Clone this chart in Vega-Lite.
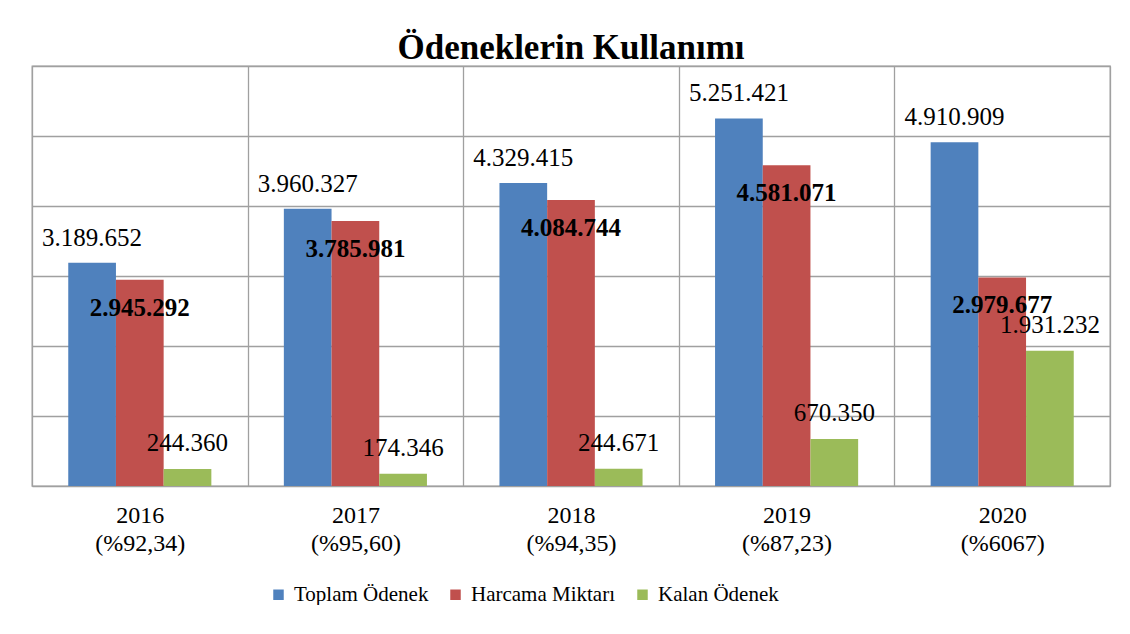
{
  "$schema": "https://vega.github.io/schema/vega-lite/v6.json",
  "width": 1078,
  "height": 420,
  "padding": {"left": 32, "top": 31, "right": 20, "bottom": 0},
  "background": "white",
  "title": {
    "text": "Ödeneklerin  Kullanımı",
    "font": "Liberation Serif",
    "fontSize": 35,
    "fontWeight": "bold",
    "color": "black",
    "anchor": "middle",
    "offset": 0
  },
  "data": {
    "values": [
      {"yil": "2016 (%92,34)", "seri": "Toplam Ödenek", "deger": 3189652},
      {"yil": "2016 (%92,34)", "seri": "Harcama Miktarı", "deger": 2945292},
      {"yil": "2016 (%92,34)", "seri": "Kalan Ödenek", "deger": 244360},
      {"yil": "2017 (%95,60)", "seri": "Toplam Ödenek", "deger": 3960327},
      {"yil": "2017 (%95,60)", "seri": "Harcama Miktarı", "deger": 3785981},
      {"yil": "2017 (%95,60)", "seri": "Kalan Ödenek", "deger": 174346},
      {"yil": "2018 (%94,35)", "seri": "Toplam Ödenek", "deger": 4329415},
      {"yil": "2018 (%94,35)", "seri": "Harcama Miktarı", "deger": 4084744},
      {"yil": "2018 (%94,35)", "seri": "Kalan Ödenek", "deger": 244671},
      {"yil": "2019 (%87,23)", "seri": "Toplam Ödenek", "deger": 5251421},
      {"yil": "2019 (%87,23)", "seri": "Harcama Miktarı", "deger": 4581071},
      {"yil": "2019 (%87,23)", "seri": "Kalan Ödenek", "deger": 670350},
      {"yil": "2020 (%6067)", "seri": "Toplam Ödenek", "deger": 4910909},
      {"yil": "2020 (%6067)", "seri": "Harcama Miktarı", "deger": 2979677},
      {"yil": "2020 (%6067)", "seri": "Kalan Ödenek", "deger": 1931232}
    ]
  },
  "encoding": {
    "x": {
      "field": "yil",
      "type": "nominal",
      "sort": null,
      "title": null,
      "scale": {"paddingInner": 0, "paddingOuter": 0},
      "axis": {
        "labelExpr": "isString(datum.value) ? split(datum.value, ' ') : ''",
        "labelAngle": 0,
        "labelFont": "Liberation Serif",
        "labelFontSize": 24,
        "labelLineHeight": 28,
        "labelColor": "black",
        "labelPadding": 17,
        "ticks": false,
        "domain": false,
        "grid": true,
        "tickBand": "extent",
        "gridColor": "#a0a0a0",
        "gridWidth": 1.3
      }
    },
    "xOffset": {
      "field": "seri",
      "type": "nominal",
      "sort": ["Toplam Ödenek", "Harcama Miktarı", "Kalan Ödenek"],
      "scale": {"domain": ["Toplam Ödenek", "Harcama Miktarı", "Kalan Ödenek"], "paddingInner": 0, "paddingOuter": 0.76}
    },
    "y": {
      "field": "deger",
      "type": "quantitative",
      "title": null,
      "scale": {"domain": [0, 6000000], "nice": false},
      "axis": {
        "values": [0, 1000000, 2000000, 3000000, 4000000, 5000000, 6000000],
        "labels": false,
        "ticks": false,
        "domain": false,
        "grid": true,
        "gridColor": "#a0a0a0",
        "gridWidth": 1.3
      }
    }
  },
  "layer": [
    {
      "mark": {"type": "bar"},
      "encoding": {
        "color": {
          "field": "seri",
          "type": "nominal",
          "sort": ["Toplam Ödenek", "Harcama Miktarı", "Kalan Ödenek"],
          "scale": {
            "domain": ["Toplam Ödenek", "Harcama Miktarı", "Kalan Ödenek"],
            "range": ["#4F81BD", "#C0504D", "#9BBB59"]
          },
          "legend": {
            "title": null,
            "orient": "none",
            "direction": "horizontal",
            "legendX": 236,
            "legendY": 518,
            "symbolType": "square",
            "symbolSize": 110,
            "symbolStrokeWidth": 0,
            "labelFont": "Liberation Serif",
            "labelFontSize": 21,
            "labelColor": "black",
            "labelOffset": 5,
            "columnPadding": 16,
            "labelLimit": 300
          }
        }
      }
    },
    {
      "transform": [{"filter": "datum.seri == 'Toplam Ödenek'"}],
      "mark": {"type": "text", "baseline": "alphabetic", "dy": -17, "font": "Liberation Serif", "fontSize": 25, "color": "black"},
      "encoding": {"text": {"field": "deger", "type": "quantitative", "format": ",d"}}
    },
    {
      "transform": [{"filter": "datum.seri == 'Harcama Miktarı'"}],
      "mark": {"type": "text", "baseline": "alphabetic", "dy": 36, "font": "Liberation Serif", "fontSize": 25, "fontWeight": "bold", "color": "black"},
      "encoding": {"text": {"field": "deger", "type": "quantitative", "format": ",d"}}
    },
    {
      "transform": [{"filter": "datum.seri == 'Kalan Ödenek'"}],
      "mark": {"type": "text", "baseline": "alphabetic", "dy": -18, "font": "Liberation Serif", "fontSize": 25, "color": "black"},
      "encoding": {"text": {"field": "deger", "type": "quantitative", "format": ",d"}}
    }
  ],
  "config": {
    "font": "Liberation Serif",
    "text": {"font": "Liberation Serif"},
    "legend": {"labelFont": "Liberation Serif"},
    "locale": {"number": {"decimal": ",", "thousands": ".", "grouping": [3], "currency": ["", " TL"]}},
    "view": {"stroke": "#a0a0a0", "strokeWidth": 1.3}
  }
}
